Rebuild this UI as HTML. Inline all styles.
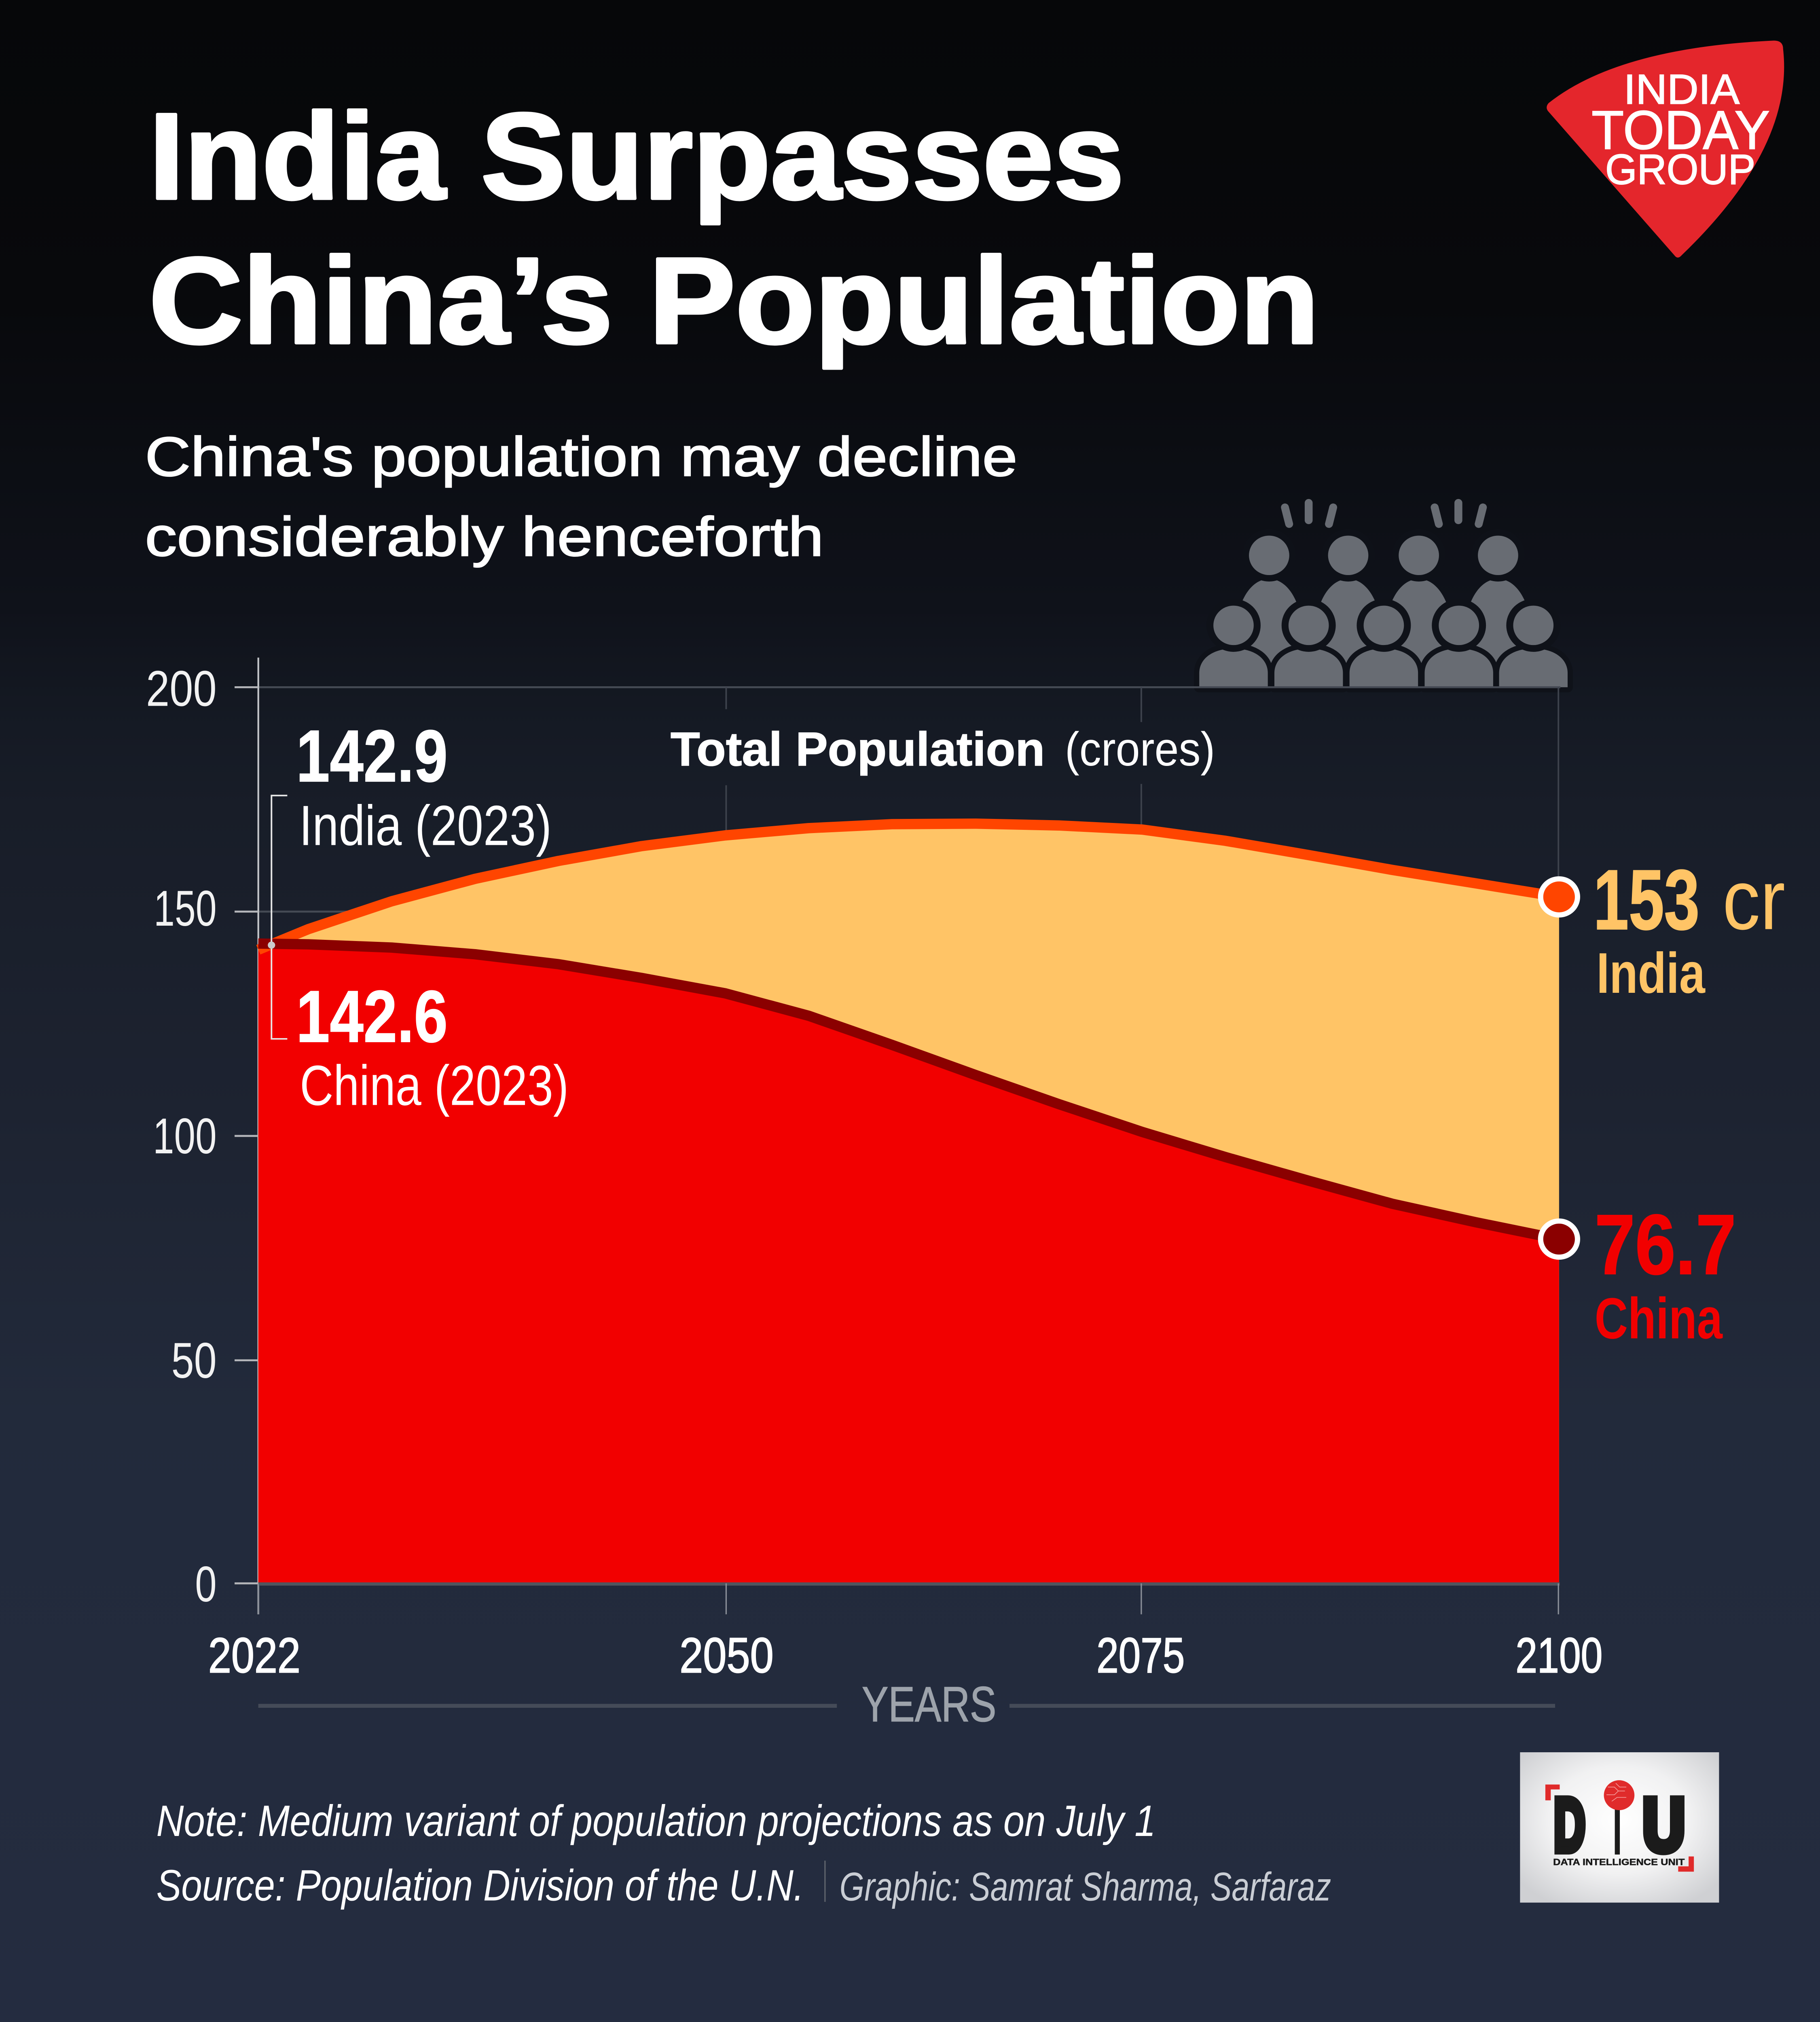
<!DOCTYPE html>
<html>
<head>
<meta charset="utf-8">
<style>
html,body{margin:0;padding:0;background:#0b0d12;overflow:hidden;}
svg{position:fixed;top:0;left:0;width:100vw;height:100vh;display:block;}
</style>
</head>
<body>
<svg xmlns="http://www.w3.org/2000/svg" viewBox="0 0 1381 1568.2" preserveAspectRatio="none" font-family="'Liberation Sans', sans-serif">
<defs>
  <linearGradient id="bg" x1="0" y1="0" x2="0" y2="1">
    <stop offset="0" stop-color="#060709"/>
    <stop offset="0.15" stop-color="#08090c"/>
    <stop offset="0.30" stop-color="#0f121a"/>
    <stop offset="0.36" stop-color="#151a24"/>
    <stop offset="0.40" stop-color="#181d28"/>
    <stop offset="0.55" stop-color="#1d2331"/>
    <stop offset="0.70" stop-color="#222a3b"/>
    <stop offset="1" stop-color="#242c40"/>
  </linearGradient>
  <radialGradient id="diubg" cx="0.5" cy="0.45" r="0.65">
    <stop offset="0" stop-color="#ffffff"/>
    <stop offset="0.55" stop-color="#f1f1f2"/>
    <stop offset="1" stop-color="#cfd0d3"/>
  </radialGradient>
</defs>

<!-- background -->
<rect x="0" y="0" width="1381" height="1568.2" fill="url(#bg)"/>

<!-- India Today logo -->
<path d="M1175,80 Q1228,37 1346,31.5 Q1353,31.5 1353,38 Q1361.5,114 1276,198 Q1273,201.5 1270.5,198 L1174.5,86 Q1172.5,83 1175,80 Z" fill="#e4262c"/>
<text x="1232" y="80.5" font-size="32.5" fill="#fff" stroke="#fff" stroke-width="0.6" textLength="88" lengthAdjust="spacingAndGlyphs">INDIA</text>
<text x="1207.6" y="115.5" font-size="42.5" fill="#fff" stroke="#fff" stroke-width="0.6" textLength="135.4" lengthAdjust="spacingAndGlyphs">TODAY</text>
<text x="1218" y="142.7" font-size="33" fill="#fff" stroke="#fff" stroke-width="0.6" textLength="114" lengthAdjust="spacingAndGlyphs">GROUP</text>

<!-- Title -->
<text x="113" y="154" font-size="95" font-weight="700" fill="#fff" stroke="#fff" stroke-width="2.2" stroke-linejoin="round" textLength="740" lengthAdjust="spacingAndGlyphs">India Surpasses</text>
<text x="113" y="266" font-size="95" font-weight="700" fill="#fff" stroke="#fff" stroke-width="2.2" stroke-linejoin="round" textLength="888" lengthAdjust="spacingAndGlyphs">China’s Population</text>

<!-- Subtitle -->
<text x="110" y="369" font-size="43" fill="#fff" stroke="#fff" stroke-width="0.8" textLength="662" lengthAdjust="spacingAndGlyphs">China's population may decline</text>
<text x="110" y="431" font-size="43" fill="#fff" stroke="#fff" stroke-width="0.8" textLength="515" lengthAdjust="spacingAndGlyphs">considerably henceforth</text>

<!-- Crowd icon -->
<g fill="#686c73">
  <g stroke="#686c73" stroke-width="6" stroke-linecap="round" fill="none">
    <line x1="975" y1="393.5" x2="978.2" y2="406.4"/>
    <line x1="993" y1="390" x2="993" y2="403.5"/>
    <line x1="1011.6" y1="393.5" x2="1008.4" y2="406.4"/>
    <line x1="1088.6" y1="393.5" x2="1091.8" y2="406.4"/>
    <line x1="1106.6" y1="390" x2="1106.6" y2="403.5"/>
    <line x1="1125.2" y1="393.5" x2="1122" y2="406.4"/>
  </g>
  <path transform="translate(963,0)" d="M-25.5,533 L-25.5,494 C-25.5,469 -15,449 0,449 C15,449 25.5,469 25.5,494 L25.5,533 Z"/>
  <path transform="translate(1023,0)" d="M-25.5,533 L-25.5,494 C-25.5,469 -15,449 0,449 C15,449 25.5,469 25.5,494 L25.5,533 Z"/>
  <path transform="translate(1076.6,0)" d="M-25.5,533 L-25.5,494 C-25.5,469 -15,449 0,449 C15,449 25.5,469 25.5,494 L25.5,533 Z"/>
  <path transform="translate(1136.7,0)" d="M-25.5,533 L-25.5,494 C-25.5,469 -15,449 0,449 C15,449 25.5,469 25.5,494 L25.5,533 Z"/>
  <g stroke="#0e1118" stroke-width="10" paint-order="stroke">
    <circle cx="963" cy="430.7" r="15.3"/>
    <circle cx="1023" cy="430.7" r="15.3"/>
    <circle cx="1076.6" cy="430.7" r="15.3"/>
    <circle cx="1136.7" cy="430.7" r="15.3"/>
  </g>
  <g stroke="#0f1219" stroke-width="8" paint-order="stroke" stroke-linejoin="round">
    <path transform="translate(936,0)" d="M-26,533 L-26,522 C-26,511 -16,503 0,503 C16,503 26,511 26,522 L26,533 Z"/>
    <path transform="translate(993,0)" d="M-26,533 L-26,522 C-26,511 -16,503 0,503 C16,503 26,511 26,522 L26,533 Z"/>
    <path transform="translate(1050,0)" d="M-26,533 L-26,522 C-26,511 -16,503 0,503 C16,503 26,511 26,522 L26,533 Z"/>
    <path transform="translate(1107,0)" d="M-26,533 L-26,522 C-26,511 -16,503 0,503 C16,503 26,511 26,522 L26,533 Z"/>
    <path transform="translate(1163.5,0)" d="M-26,533 L-26,522 C-26,511 -16,503 0,503 C16,503 26,511 26,522 L26,533 Z"/>
  </g>
  <g stroke="#0f1219" stroke-width="10.5" paint-order="stroke">
    <circle cx="936" cy="485" r="15.3"/>
    <circle cx="993" cy="485" r="15.3"/>
    <circle cx="1050" cy="485" r="15.3"/>
    <circle cx="1107" cy="485" r="15.3"/>
    <circle cx="1163.5" cy="485" r="15.3"/>
  </g>
</g>

<!-- Chart: grid lines -->
<g stroke="#454a54" stroke-width="1.5">
  <line x1="196" y1="533" x2="1184" y2="533"/>
  <line x1="196" y1="707" x2="1183" y2="707"/>
  <line x1="196" y1="881" x2="1183" y2="881"/>
  <line x1="196" y1="1055" x2="1183" y2="1055"/>
</g>
<g stroke="#3d424c" stroke-width="1.2">
  <line x1="551" y1="533" x2="551" y2="550"/>
  <line x1="551" y1="609" x2="551" y2="1228"/>
  <line x1="866" y1="533" x2="866" y2="560"/>
  <line x1="866" y1="608" x2="866" y2="1228"/>
  <line x1="1182.5" y1="533" x2="1182.5" y2="1228"/>
</g>
<line x1="196" y1="510" x2="196" y2="1252" stroke="#c4c6ca" stroke-width="1.3"/>
<g stroke="#b4b6ba" stroke-width="1.5">
  <line x1="178" y1="533" x2="196" y2="533"/>
  <line x1="178" y1="707" x2="196" y2="707"/>
  <line x1="178" y1="881" x2="196" y2="881"/>
  <line x1="178" y1="1055" x2="196" y2="1055"/>
  <line x1="178" y1="1228" x2="196" y2="1228"/>
</g>

<!-- areas -->
<polygon fill="#ffc466" points="196,736.6 234,720.6 297.2,699.0 360.5,681.6 423.8,667.7 487,656.2 550.3,647.9 613.6,642.3 676.9,639.2 740.1,638.8 803.4,640.2 866.7,643.4 929.9,652.1 993.2,663.2 1056.5,674.7 1119.7,685.1 1183,695.6 1183,1228 196,1228"/>
<polygon fill="#f20000" points="196,731.8 234,732.4 297.2,734.9 360.5,740.1 423.8,747.8 487,758.5 550.3,770.4 613.6,787.8 676.9,810.4 740.1,833.7 803.4,856.3 866.7,877.9 929.9,897.4 993.2,915.8 1056.5,933.6 1119.7,947.9 1183,961.1 1183,1228 196,1228"/>
<polyline fill="none" stroke="#ff4500" stroke-width="8" stroke-linejoin="round" points="196,736.6 234,720.6 297.2,699.0 360.5,681.6 423.8,667.7 487,656.2 550.3,647.9 613.6,642.3 676.9,639.2 740.1,638.8 803.4,640.2 866.7,643.4 929.9,652.1 993.2,663.2 1056.5,674.7 1119.7,685.1 1183,695.6"/>
<polyline fill="none" stroke="#8b0000" stroke-width="8" stroke-linejoin="round" points="196,731.8 234,732.4 297.2,734.9 360.5,740.1 423.8,747.8 487,758.5 550.3,770.4 613.6,787.8 676.9,810.4 740.1,833.7 803.4,856.3 866.7,877.9 929.9,897.4 993.2,915.8 1056.5,933.6 1119.7,947.9 1183,961.1"/>

<!-- x axis -->
<line x1="196" y1="1228.5" x2="1183.5" y2="1228.5" stroke="#50555e" stroke-width="2.5"/>
<g stroke="#8a8f98" stroke-width="1">
  <line x1="196" y1="1228" x2="196" y2="1252"/>
  <line x1="551" y1="1228" x2="551" y2="1252"/>
  <line x1="866" y1="1228" x2="866" y2="1252"/>
  <line x1="1182.5" y1="1228" x2="1182.5" y2="1252"/>
</g>

<!-- y tick labels -->
<g font-size="39" fill="#f2f2f2">
  <text x="110.8" y="547.4" textLength="53.6" lengthAdjust="spacingAndGlyphs">200</text>
  <text x="116.6" y="718" textLength="47.8" lengthAdjust="spacingAndGlyphs">150</text>
  <text x="116" y="894.5" textLength="48.4" lengthAdjust="spacingAndGlyphs">100</text>
  <text x="130" y="1068.5" textLength="34.4" lengthAdjust="spacingAndGlyphs">50</text>
  <text x="148" y="1242" textLength="16.4" lengthAdjust="spacingAndGlyphs">0</text>
</g>

<!-- x tick labels -->
<g font-size="38.5" fill="#fff" stroke="#fff" stroke-width="0.7">
  <text x="158" y="1297" textLength="70" lengthAdjust="spacingAndGlyphs">2022</text>
  <text x="515.6" y="1297" textLength="71.4" lengthAdjust="spacingAndGlyphs">2050</text>
  <text x="832" y="1297" textLength="67" lengthAdjust="spacingAndGlyphs">2075</text>
  <text x="1150" y="1297" textLength="66" lengthAdjust="spacingAndGlyphs">2100</text>
</g>
<g stroke="#454b58" stroke-width="3">
  <line x1="196" y1="1323" x2="635" y2="1323"/>
  <line x1="766" y1="1323" x2="1180" y2="1323"/>
</g>
<text x="654" y="1335" font-size="38.5" fill="#9da3ab" stroke="#9da3ab" stroke-width="0.5" textLength="102" lengthAdjust="spacingAndGlyphs">YEARS</text>

<!-- chart title -->
<text x="508.8" y="593.8" font-size="37" font-weight="700" fill="#fff" stroke="#fff" stroke-width="0.5" textLength="284" lengthAdjust="spacingAndGlyphs">Total Population</text>
<text x="808" y="593.8" font-size="37" fill="#fff" textLength="114" lengthAdjust="spacingAndGlyphs">(crores)</text>

<!-- left annotations -->
<polyline points="218,617 206,617 206,805.7 218,805.7" fill="none" stroke="#e6e6e6" stroke-width="1.2"/>
<circle cx="206" cy="733" r="2.8" fill="#cccccc"/>
<text x="224.7" y="606" font-size="57" font-weight="700" fill="#fff" stroke="#fff" stroke-width="0.6" textLength="115" lengthAdjust="spacingAndGlyphs">142.9</text>
<text x="227" y="655.4" font-size="44" fill="#fff" textLength="191.6" lengthAdjust="spacingAndGlyphs">India (2023)</text>
<text x="224.7" y="808" font-size="57" font-weight="700" fill="#fff" stroke="#fff" stroke-width="0.6" textLength="115" lengthAdjust="spacingAndGlyphs">142.6</text>
<text x="227.5" y="857" font-size="44" fill="#fff" textLength="204" lengthAdjust="spacingAndGlyphs">China (2023)</text>

<!-- end dots -->
<circle cx="1183" cy="695.6" r="14" fill="#ff4500" stroke="#fff" stroke-width="4"/>
<circle cx="1183" cy="961" r="14" fill="#8b0000" stroke="#fff" stroke-width="4"/>

<!-- right labels -->
<text x="1209" y="720.6" font-size="66" font-weight="700" fill="#ffc466" stroke="#ffc466" stroke-width="0.8" textLength="80.6" lengthAdjust="spacingAndGlyphs">153</text>
<text x="1307" y="720.6" font-size="66" fill="#ffc466" textLength="47.6" lengthAdjust="spacingAndGlyphs">cr</text>
<text x="1211.4" y="770" font-size="44.5" font-weight="700" fill="#ffc466" textLength="82.4" lengthAdjust="spacingAndGlyphs">India</text>
<text x="1210" y="988" font-size="66" font-weight="700" fill="#f20000" stroke="#f20000" stroke-width="0.8" textLength="107.4" lengthAdjust="spacingAndGlyphs">76.7</text>
<text x="1210" y="1038" font-size="45" font-weight="700" fill="#f20000" textLength="97" lengthAdjust="spacingAndGlyphs">China</text>

<!-- footer -->
<text x="118.6" y="1424" font-size="34" font-style="italic" fill="#fff" textLength="758.4" lengthAdjust="spacingAndGlyphs">Note: Medium variant of population projections as on July 1</text>
<text x="118.6" y="1474" font-size="34" font-style="italic" fill="#fff" textLength="491.4" lengthAdjust="spacingAndGlyphs">Source: Population Division of the U.N.</text>
<line x1="626" y1="1443" x2="626" y2="1475" stroke="#5e636c" stroke-width="1"/>
<text x="637" y="1474" font-size="31" font-style="italic" fill="#c9cdd4" textLength="373" lengthAdjust="spacingAndGlyphs">Graphic: Samrat Sharma, Sarfaraz</text>

<!-- DIU logo -->
<rect x="1153.4" y="1359" width="151" height="116.6" fill="url(#diubg)"/>
<g font-size="58" font-weight="700" fill="#1b1b1b" stroke="#1b1b1b" stroke-width="6" stroke-linejoin="miter">
  <text x="1179" y="1435.3" textLength="23.9" lengthAdjust="spacingAndGlyphs">D</text>
  <text x="1225" y="1435.3" textLength="4.4" lengthAdjust="spacingAndGlyphs">ı</text>
  <text x="1246.4" y="1435.3" textLength="32.2" lengthAdjust="spacingAndGlyphs">U</text>
</g>
<circle cx="1228.6" cy="1392.3" r="11.6" fill="#e02b2b"/>
<g stroke="#f4a0a0" stroke-width="0.5" fill="none">
  <path d="M1220,1386 l5,0 l3,3 l5,0"/>
  <path d="M1219,1392 l6,0 l3,-3"/>
  <path d="M1223,1397 l4,-3 l7,0"/>
  <path d="M1226,1383 l3,3 l5,0"/>
</g>
<path d="M1172.6,1396.3 V1384 H1183.5 V1387.8 H1176.7 V1396.3 Z" fill="#e02a2a"/>
<path d="M1285.3,1439.8 V1451.6 H1273.4 V1447.5 H1281.3 V1439.8 Z" fill="#e02a2a"/>
<text x="1178.5" y="1446.5" font-size="7" font-weight="700" fill="#1b1b1b" stroke="#1b1b1b" stroke-width="0.2" textLength="99.8" lengthAdjust="spacingAndGlyphs">DATA INTELLIGENCE UNIT</text>
</svg>
</body>
</html>
